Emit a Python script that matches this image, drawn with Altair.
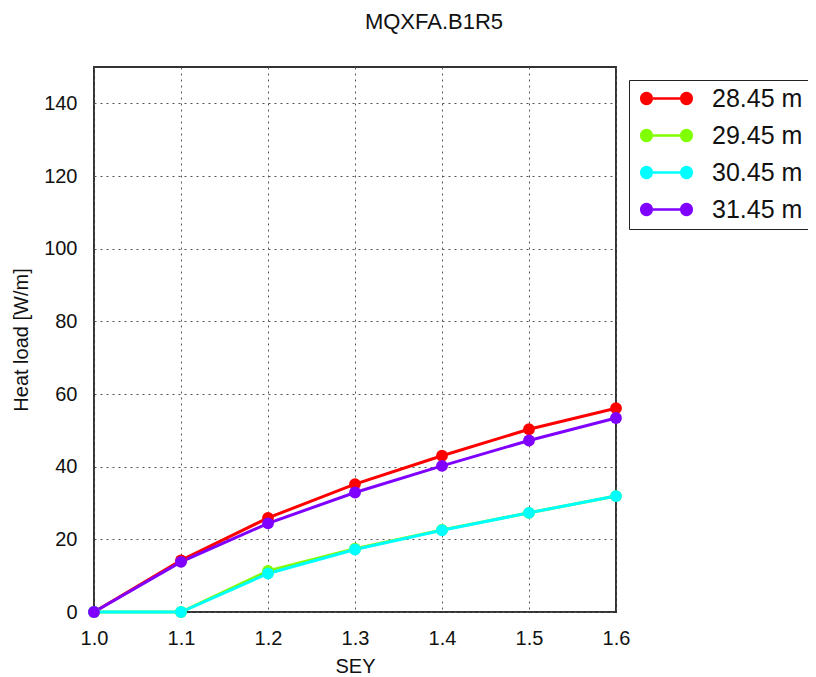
import altair as alt
import pandas as pd

sey = [1.0, 1.1, 1.2, 1.3, 1.4, 1.5, 1.6]
series_names = ["28.45 m", "29.45 m", "30.45 m", "31.45 m"]
h_2845 = [0.0, 14.2, 25.9, 35.2, 43.0, 50.3, 56.1]
h_2945 = [0.0, 0.0, 11.3, 17.4, 22.6, 27.3, 31.9]
h_3045 = [0.0, 0.0, 10.6, 17.2, 22.5, 27.3, 31.9]
h_3145 = [0.0, 13.8, 24.4, 32.9, 40.2, 47.2, 53.4]
colors = ["#ff0000", "#80ff00", "#00ffff", "#8000ff"]

rows = []
for name, vals in zip(series_names, [h_2845, h_2945, h_3045, h_3145]):
    for s, v in zip(sey, vals):
        rows.append({"SEY": s, "Heat": v, "Position": name})
df = pd.DataFrame(rows)

FONT = "Liberation Sans"
LEG_PATH = ("M-1.125,-0.11L1.125,-0.11L1.125,0.11L-1.125,0.11Z "
            "M-2.208,0A0.542,0.542,0,1,0,-1.125,0A0.542,0.542,0,1,0,-2.208,0Z "
            "M1.125,0A0.542,0.542,0,1,0,2.208,0A0.542,0.542,0,1,0,1.125,0Z")

xenc = alt.X("SEY:Q",
             scale=alt.Scale(domain=[1.0, 1.6], nice=False, zero=False),
             axis=alt.Axis(title="SEY", values=sey, format=".1f",
                           labelFontSize=20, titleFontSize=20,
                           labelFont=FONT, titleFont=FONT,
                           titleFontWeight="normal", labelColor="#111", titleColor="#111",
                           ticks=False, domain=False, labelPadding=16, labelFlush=False,
                           titleY=60, titleBaseline="alphabetic",
                           grid=True, gridDash=[2, 4], gridColor="#555", gridWidth=1))
yenc = alt.Y("Heat:Q",
             scale=alt.Scale(domain=[0, 150], nice=False),
             axis=alt.Axis(title="Heat load [W/m]", values=[0, 20, 40, 60, 80, 100, 120, 140],
                           labelFontSize=20, titleFontSize=20,
                           labelFont=FONT, titleFont=FONT,
                           titleFontWeight="normal", labelColor="#111", titleColor="#111",
                           ticks=False, domain=False, labelPadding=17, labelFlush=False,
                           titleX=-67, titleBaseline="alphabetic",
                           grid=True, gridDash=[2, 4], gridColor="#555", gridWidth=1))

color_scale = alt.Scale(domain=series_names, range=colors)
legend = alt.Legend(title=None, orient="none", legendX=535, legendY=13,
                    symbolType=LEG_PATH, symbolSize=576,
                    symbolStrokeWidth=0, symbolOffset=19,
                    labelOffset=33, labelFontSize=25, labelFont=FONT,
                    labelColor="#111",
                    rowPadding=11, padding=6,
                    strokeColor="#222", fillColor="white",
                    cornerRadius=0, labelLimit=300)

lines = alt.Chart(df).mark_line(strokeWidth=3).encode(
    x=xenc, y=yenc,
    color=alt.Color("Position:N", scale=color_scale, legend=legend),
)
points = alt.Chart(df).mark_point(filled=True, size=140, opacity=1).encode(
    x=xenc, y=yenc,
    color=alt.Color("Position:N", scale=color_scale, legend=legend),
)

chart = alt.layer(lines, points).properties(
    width=522, height=545,
    title=alt.Title("MQXFA.B1R5", fontSize=22, font=FONT, fontWeight="normal",
                    color="#111", anchor="middle", dx=79, offset=16,
                    baseline="alphabetic"),
    autosize=alt.AutoSizeParams(type="none"),
    padding={"left": 86, "top": 59, "right": 192, "bottom": 69},
).configure(background="white").configure_view(stroke="#333", strokeWidth=2)

chart.save("out.html", embed_options={"renderer": "svg", "actions": False})
